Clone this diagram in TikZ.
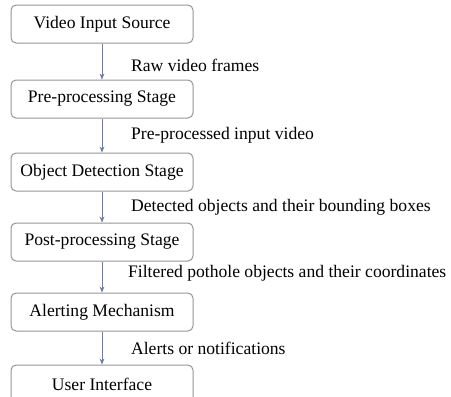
\documentclass[tikz,border=0pt]{standalone}
\usepackage{fontspec}
\setmainfont{Liberation Serif}
\usepackage{xcolor}
\usepackage{tikz}
\usetikzlibrary{positioning, calc, arrows.meta}

\definecolor{boxgray}{RGB}{150,150,150}
\definecolor{flowblue}{RGB}{105,125,165}

\begin{document}
\begin{tikzpicture}[x=0.5pt, y=0.5pt, >={Stealth[length=3pt,width=2.4pt]},
    stage/.style={draw=boxgray, line width=0.5pt, rounded corners=2.5pt,
        minimum width=91pt, minimum height=19pt, inner sep=0pt,
        font=\fontsize{8.8}{10}\selectfont, fill=white},
    flow/.style={->, draw=flowblue, line width=0.45pt},
    lbl/.style={right, xshift=11pt, font=\fontsize{8.8}{10}\selectfont}]

    % --- Frame of the picture ---
    \useasboundingbox (0, 0) rectangle (451, -397);

    % --- Stages, top to bottom ---
    \node[stage] (vis)   at (102, -24)  {Video Input Source};
    \node[stage] (pre)   at (102, -99)  {Pre-processing Stage};
    \node[stage] (det)   at (102, -172) {Object Detection Stage};
    \node[stage] (post)  at (102, -242) {Post-processing Stage};
    \node[stage] (alert) at (102, -312) {Alerting Mechanism};
    \node[stage] (ui)    at (102, -384) {User Interface};

    % --- Data passed between stages ---
    \draw[flow] (vis) -- node[lbl, yshift=-2pt] {Raw video frames} (pre);
    \draw[flow] (pre) -- node[lbl] {Pre-processed input video} (det);
    \draw[flow] (det) -- node[lbl] {Detected objects and their bounding boxes} (post);
    \draw[flow] (post) -- node[lbl, xshift=-1.5pt, yshift=2pt] {Filtered pothole objects and their coordinates} (alert);
    \draw[flow] (alert) -- node[lbl] {Alerts or notifications} (ui);

\end{tikzpicture}
\end{document}
